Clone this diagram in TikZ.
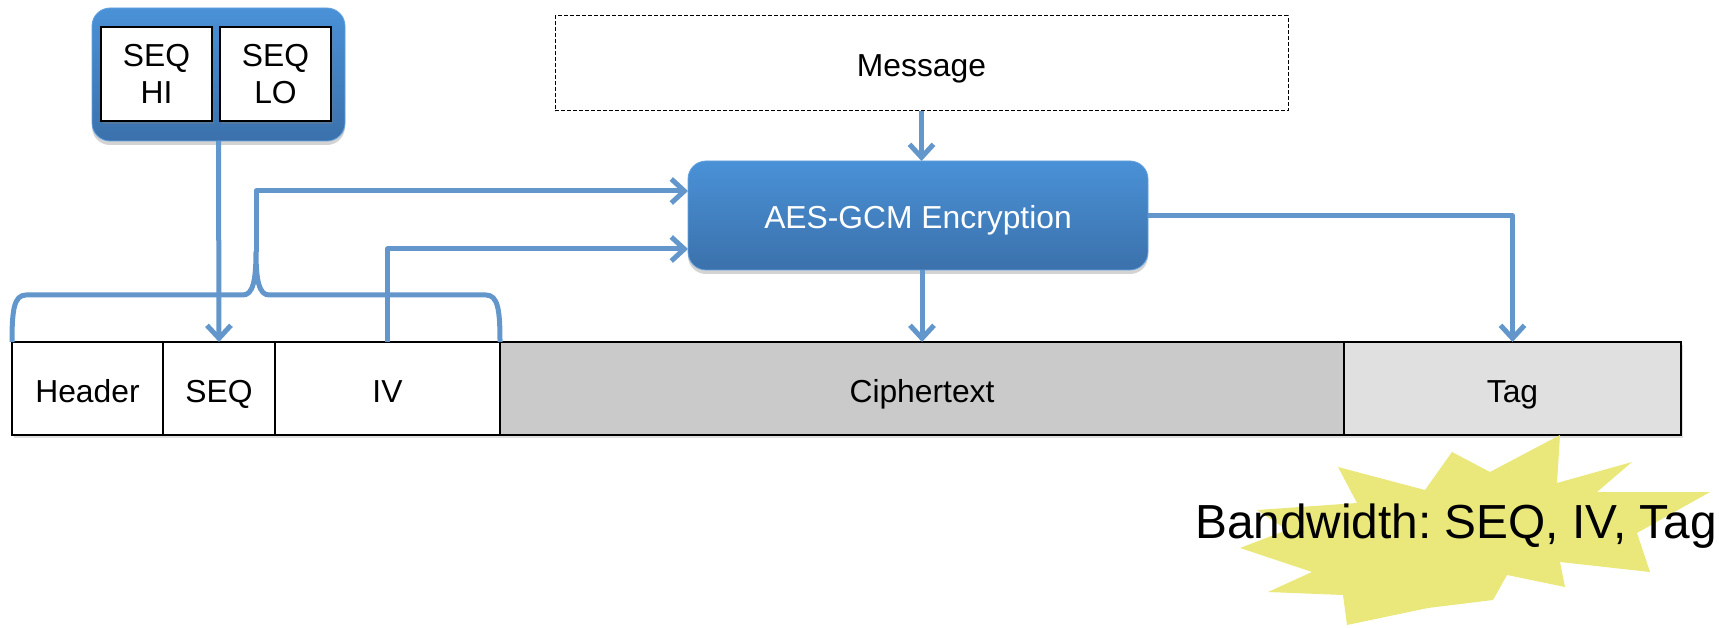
\documentclass[tikz,border=0pt]{standalone}
\usepackage{fontspec}
\setmainfont{Liberation Sans}
\usetikzlibrary{arrows.meta,shadows}
\frenchspacing

\definecolor{linkblue}{RGB}{99,151,204}
\definecolor{boxtop}{RGB}{74,145,215}
\definecolor{boxbot}{RGB}{59,113,171}
\definecolor{cipherfill}{RGB}{202,202,202}
\definecolor{tagfill}{RGB}{224,224,224}
\definecolor{burst}{RGB}{234,232,122}

\begin{document}
\begin{tikzpicture}[x=1pt,y=-1pt,
  font=\fontsize{31.8}{37}\selectfont,
  field/.style={draw=black, line width=2.2pt, fill=white, minimum height=93pt,
    anchor=north west, inner sep=0pt, outer sep=0pt, text height=27pt, text depth=0pt,
    drop shadow={opacity=0.25, shadow xshift=2pt, shadow yshift=-3pt}},
  procbox/.style={rounded corners=18pt, top color=boxtop, bottom color=boxbot,
    draw=boxtop!85!white, line width=0.8pt, inner sep=0pt, outer sep=0pt,
    drop shadow={opacity=0.35, shadow xshift=0pt, shadow yshift=-4pt}},
  seqbox/.style={draw=black, line width=2.2pt, fill=white, minimum width=111pt,
    minimum height=94pt, align=center, inner sep=0pt, outer sep=0pt,
    drop shadow={opacity=0.35, shadow xshift=2pt, shadow yshift=-3pt}},
  conn/.style={draw=linkblue, line width=5pt, line join=round},
  tip/.style={-{Straight Barb[length=13pt,width=24pt]}}
]
\useasboundingbox (0,0) rectangle (1719,628);

% sequence-number register
\node[procbox, minimum width=253pt, minimum height=133pt] (seqgrp) at (218.5,74.5) {};
\node[seqbox] (seqhi) at (156.5,74) {SEQ\\HI};
\node[seqbox] (seqlo) at (275.5,74) {SEQ\\LO};

% plaintext input
\node[draw=black, line width=1pt, dash pattern=on 4pt off 2pt, fill=white,
  minimum width=733pt, minimum height=95pt, inner sep=0pt,
  text height=27pt, text depth=0pt] (msg) at (921.5,63.5) {Message};

% cipher block
\node[procbox, text=white, minimum width=460pt, minimum height=109pt,
  text height=26pt, text depth=0pt] (aes) at (918,215.5) {AES-GCM Encryption};

% packet layout
\node[field, minimum width=151pt] (hdr) at (12,342) {Header};
\node[field, minimum width=112pt] (seq) at (163,342) {SEQ};
\node[field, minimum width=225pt] (iv)  at (275,342) {IV};
\node[field, minimum width=844pt, fill=cipherfill] (ct)  at (500,342) {Ciphertext};
\node[field, minimum width=337pt, fill=tagfill] (tag) at (1344,342) {Tag};

% brace over header, SEQ and IV
\coordinate (bracetip) at (256,252);
\draw[conn] (hdr.north west) .. controls +(0,-32) and +(-12,0) .. (26,295)
  -- (243,295) .. controls +(10,0) and +(0,28) .. (bracetip)
  .. controls +(0,28) and +(-10,0) .. (269,295)
  -- (486,295) .. controls +(12,0) and +(0,-32) .. (iv.north east);

% connectors
\draw[conn, tip] (seqgrp.south) -- (seq.north);
\draw[conn, tip] (bracetip) |- ([yshift=24.5pt]aes.west);
\draw[conn, tip] (iv.north) |- ([yshift=-33.5pt]aes.west);
\draw[conn, tip] (msg.south) -- (msg.south |- aes.north);
\draw[conn, tip] (ct.north |- aes.south) -- (ct.north);
\draw[conn, tip] (aes.east) -| (tag.north);

% highlight burst
\fill[burst] (1560,435) -- (1557,483) -- (1632,462) -- (1597,492) -- (1710,492)
  -- (1637,533) -- (1650,572) -- (1560,562) -- (1565,587) -- (1507,575)
  -- (1493,600) -- (1428,608) -- (1347,625) -- (1343,595) -- (1268,592)
  -- (1312,572) -- (1240,548) -- (1287,530) -- (1257,510) -- (1357,503)
  -- (1338,467) -- (1425,490) -- (1452,452) -- (1490,472) -- cycle;
\node[anchor=base west, inner sep=0pt, font=\fontsize{47.8}{55}\selectfont] (bw)
  at (1195,538) {Bandwidth: SEQ, IV, Tag};
\end{tikzpicture}
\end{document}
